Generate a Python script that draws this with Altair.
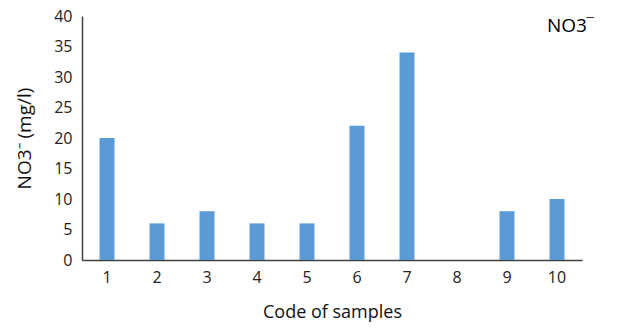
import altair as alt
import pandas as pd

codes = ["1", "2", "3", "4", "5", "6", "7", "8", "9", "10"]
values = [20, 6, 8, 6, 6, 22, 34, 0, 8, 10]

df = pd.DataFrame({"code": codes, "value": values})

font = "Open Sans"

bars = alt.Chart(df).mark_bar(color="#5B9BD5").encode(
    x=alt.X("code:N", sort=codes,
            scale=alt.Scale(paddingInner=0.7, paddingOuter=0.35),
            axis=alt.Axis(title="Code of samples", labelAngle=0, ticks=False,
                          labelFontSize=16, labelPadding=9, titleFontSize=18,
                          titlePadding=18, titleFontWeight="normal")),
    y=alt.Y("value:Q", scale=alt.Scale(domain=[0, 40]),
            axis=alt.Axis(title="NO3⁻  (mg/l)", values=[0, 5, 10, 15, 20, 25, 30, 35, 40],
                          ticks=False, grid=False, labelFontSize=16, labelPadding=10,
                          titleFontSize=19, titlePadding=19, titleFontWeight="normal")),
)

label = alt.Chart(pd.DataFrame({"t": ["NO3‾"]})).mark_text(
    font=font, fontSize=19, color="#000000", align="left", baseline="middle"
).encode(x=alt.value(465), y=alt.value(10), text="t:N")

chart = alt.layer(bars, label).properties(
    width=500, height=244,
    autosize=alt.AutoSizeParams(type="none"),
    padding={"left": 82, "top": 16, "right": 54, "bottom": 68},
).configure_view(stroke=None).configure_axis(
    labelFont=font, titleFont=font, labelColor="#222222", titleColor="#111111",
    domainColor="#404040", domainWidth=1.5, grid=False
)

chart.save("out.html", embed_options={"renderer": "svg", "actions": False})
